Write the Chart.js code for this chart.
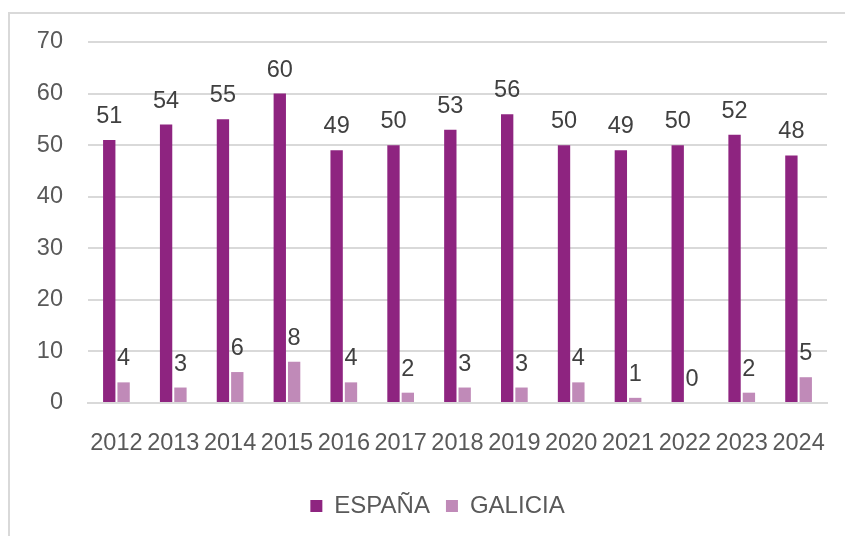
<!DOCTYPE html>
<html>
<head>
<meta charset="utf-8">
<script src="https://cdn.jsdelivr.net/npm/chart.js@4/dist/chart.umd.min.js"></script>
<style>
  html, body { margin: 0; padding: 0; background: #fff; }
  #wrap { width: 845px; height: 536px; }
</style>
</head>
<body>
<div id="wrap"><canvas id="chart"></canvas></div>
<script>
const years = ['2012', '2013', '2014', '2015', '2016', '2017', '2018', '2019', '2020', '2021', '2022', '2023', '2024'];
const espana = [51, 54, 55, 60, 49, 50, 53, 56, 50, 49, 50, 52, 48];
const galicia = [4, 3, 6, 8, 4, 2, 3, 3, 4, 1, 0, 2, 5];

const fontFamily = '"Liberation Sans", Arial, sans-serif';
const gridColor = '#d9d9d9';

// Рамка вокруг области диаграммы
const framePlugin = {
  id: 'frame',
  beforeDraw(chart) {
    const ctx = chart.ctx;
    ctx.save();
    ctx.fillStyle = '#fff';
    ctx.fillRect(0, 0, chart.width, chart.height);
    ctx.strokeStyle = gridColor;
    ctx.lineWidth = 2;
    ctx.strokeRect(9, 13, chart.width + 10, chart.height + 10);
    ctx.restore();
  },
};

// Сдвиг легенды вправо, как в оригинале
const legendShift = {
  id: 'legendShift',
  afterLayout(chart) {
    if (chart.legend) {
      chart.legend.left += 24;
      chart.legend.right += 24;
    }
  },
};

// Подписи значений над столбцами
const valueLabels = {
  id: 'valueLabels',
  afterDatasetsDraw(chart) {
    const ctx = chart.ctx;
    ctx.save();
    ctx.font = '23.5px ' + fontFamily;
    ctx.fillStyle = '#404040';
    ctx.textAlign = 'center';
    ctx.textBaseline = 'alphabetic';
    chart.data.datasets.forEach((ds, i) => {
      chart.getDatasetMeta(i).data.forEach((bar, j) => {
        ctx.fillText(String(ds.data[j]), bar.x, bar.y - 17);
      });
    });
    ctx.restore();
  },
};

new Chart(document.getElementById('chart'), {
  type: 'bar',
  data: {
    labels: years,
    datasets: [
      { label: 'ESPAÑA', data: espana, backgroundColor: '#8e2480', categoryPercentage: 0.505, barPercentage: 0.86 },
      { label: 'GALICIA', data: galicia, backgroundColor: '#c08ab8', categoryPercentage: 0.505, barPercentage: 0.86 },
    ],
  },
  options: {
    animation: false,
    responsive: true,
    maintainAspectRatio: false,
    devicePixelRatio: 1,
    layout: { padding: { left: 0, right: 18, top: 42, bottom: 8 } },
    plugins: {
      tooltip: { enabled: false },
      legend: {
        position: 'bottom',
        labels: {
          color: '#595959',
          boxWidth: 12,
          boxHeight: 12,
          padding: 16,
          font: { family: fontFamily, size: 24 },
        },
      },
    },
    scales: {
      x: {
        grid: { display: false },
        border: { display: true, color: gridColor, width: 2 },
        ticks: {
          color: '#595959',
          padding: 18,
          maxRotation: 0,
          autoSkip: false,
          font: { family: fontFamily, size: 23.5 },
        },
        afterFit(scale) { scale.height = 75; },
      },
      y: {
        min: 0,
        max: 70,
        grid: { color: gridColor, lineWidth: 2, drawTicks: false },
        border: { display: false },
        ticks: {
          stepSize: 10,
          color: '#595959',
          padding: 25,
          font: { family: fontFamily, size: 23.5 },
        },
        afterFit(scale) { scale.width = 88; },
      },
    },
  },
  plugins: [framePlugin, legendShift, valueLabels],
});
</script>
</body>
</html>
